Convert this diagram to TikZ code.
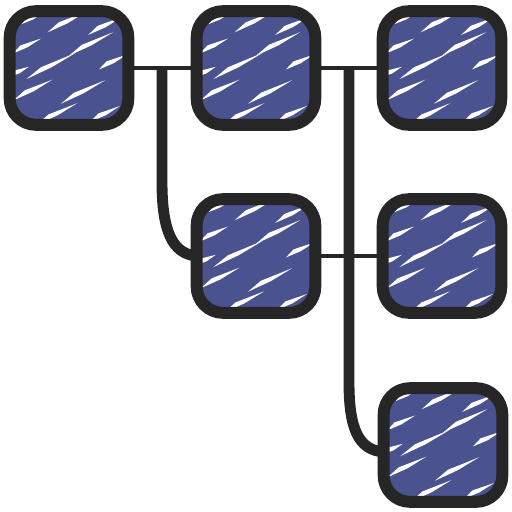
\documentclass[tikz,border=0pt]{standalone}
\usetikzlibrary{calc,backgrounds}
\definecolor{boxblue}{HTML}{4A528F}
\definecolor{ink}{HTML}{262626}
\tikzset{
  x=0.02cm, y=0.02cm,
  boxnode/.style={rectangle, rounded corners=15pt, fill=boxblue, draw=none,
    inner sep=0pt, minimum width=2.36cm, minimum height=2.26cm},
  outline/.style={draw=ink, line width=6.8pt, rounded corners=15pt},
  thinlink/.style={draw=ink, line width=2.8pt},
  thicklink/.style={draw=ink, line width=6.2pt},
  pics/streak/.style={code={\fill[white] (-#1/2,0) -- (-#1/6,3.6) -- (#1/2,0) -- (0,-1.4) -- cycle;}},
  pics/streak/.default=30
}
\newcommand\hatchbox[1]{%
  \begin{scope}
    \clip[rounded corners=15pt] (#1.south west) rectangle (#1.north east);
    \foreach \dx/\dy/\l in {-36/50/26, -2/46/44, 36/42/38, -42/22/32, 22/24/50,
        -18/2/56, 44/6/32, -36/-22/44, 14/-24/50, -12/-46/46, 36/-46/34, -50/-4/22}
      \pic[rotate=28] at ($(#1.center)+(\dx,\dy)$) {streak=\l};
  \end{scope}
  \draw[outline] (#1.south west) rectangle (#1.north east);
}
\begin{document}
\begin{tikzpicture}
\useasboundingbox (0,0) rectangle (512,512);
\node[boxnode] (A) at (69,444) {};
\node[boxnode] (B) at (256,444) {};
\node[boxnode] (C) at (442,444) {};
\node[boxnode] (D) at (256,256) {};
\node[boxnode] (E) at (442,256) {};
\node[boxnode] (F) at (443,67) {};
\coordinate (j1) at (162,444);
\coordinate (j2) at (349,444);
\coordinate (f1) at ($(F.west)+(0,-7)$);
\begin{pgfonlayer}{background}
  \draw[thinlink] (A) -- (B);
  \draw[thinlink] (B) -- (C);
  \draw[thinlink] (D) -- (E);
  \draw[thicklink] (j1) -- (162,330) .. controls (162,282) and (172,258) .. (D.west);
  \draw[thicklink] (j2) -- (349,130) .. controls (349,84) and (358,62) .. (f1);
\end{pgfonlayer}
\hatchbox{A}
\hatchbox{B}
\hatchbox{C}
\hatchbox{D}
\hatchbox{E}
\hatchbox{F}
\end{tikzpicture}
\end{document}
